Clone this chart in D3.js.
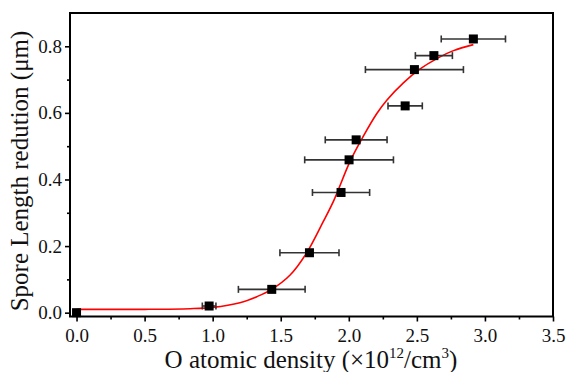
<!DOCTYPE html>
<html><head><meta charset="utf-8">
<script src="https://cdn.jsdelivr.net/npm/d3@7"></script>
<style>body{margin:0;background:#fff}svg{display:block}</style>
</head><body><svg id="c" width="567" height="372"></svg>
<script>
// Data
const density = [0.0, 0.974, 1.434, 1.711, 1.943, 2.002, 2.054, 2.414, 2.482, 2.625, 2.915];
const reduction = [0.0, 0.020, 0.070, 0.180, 0.361, 0.459, 0.519, 0.621, 0.730, 0.772, 0.822];
const densityErr = [0.0, 0.05, 0.245, 0.217, 0.21, 0.326, 0.227, 0.126, 0.36, 0.136, 0.236];
const fitX = [0, 0.5, 0.834, 1.0, 1.2, 1.324, 1.434, 1.569, 1.691, 1.813, 1.892, 2.01, 2.107, 2.206, 2.279, 2.401, 2.524, 2.647, 2.769, 2.915];
const fitY = [0.010, 0.010, 0.012, 0.016, 0.030, 0.048, 0.070, 0.113, 0.180, 0.274, 0.339, 0.455, 0.530, 0.598, 0.638, 0.690, 0.732, 0.763, 0.787, 0.805];
const xTicks = [0, 0.5, 1.0, 1.5, 2.0, 2.5, 3.0, 3.5];
const yTicks = [0, 0.2, 0.4, 0.6, 0.8];

const FONT = "'Liberation Serif','Times New Roman',serif";
const svg = d3.select("#c");
const L = 70, R = 553, T = 13, B = 316.5;
const x = d3.scaleLinear().domain([-0.048, 3.5]).range([L, R]);
const y = d3.scaleLinear().domain([-0.0115, 0.9]).range([B, T]);

// axes
const xAxis = d3.axisBottom(x).tickValues(xTicks).tickFormat(d3.format(".1f")).tickSize(5).tickPadding(7);
const xMinor = d3.axisBottom(x).tickValues(d3.range(0.25, 3.5, 0.5)).tickFormat("").tickSize(3);
const yAxis = d3.axisLeft(y).tickValues(yTicks).tickFormat(d3.format(".1f")).tickSize(5).tickPadding(3);
const yMinor = d3.axisLeft(y).tickValues([0.1, 0.3, 0.5, 0.7]).tickFormat("").tickSize(3);

function style(g){
  g.attr("font-family", null).attr("font-size", null);
  g.select(".domain").remove();
  g.selectAll("line").attr("stroke","#000").attr("stroke-width",1.6);
  g.selectAll("text").style("font-size","19px").style("font-family",FONT).attr("fill","#111");
}
svg.append("g").attr("transform",`translate(0,${B})`).call(xAxis).call(style);
svg.append("g").attr("transform",`translate(0,${B})`).call(xMinor).call(style);
svg.append("g").attr("transform",`translate(${L},0)`).call(yAxis).call(style);
svg.append("g").attr("transform",`translate(${L},0)`).call(yMinor).call(style);

// frame
svg.append("rect").attr("x",L).attr("y",T).attr("width",R-L).attr("height",B-T)
  .attr("fill","none").attr("stroke","#000").attr("stroke-width",2);

// fit line
const pts = fitX.map((v,i)=>[v,fitY[i]]);
svg.append("path").datum(pts)
  .attr("d", d3.line().x(d=>x(d[0])).y(d=>y(d[1])).curve(d3.curveCatmullRom.alpha(0.5)))
  .attr("fill","none").attr("stroke","#ff0000").attr("stroke-width",1.6);

// error bars
const data = density.map((v,i)=>({x:v,y:reduction[i],e:densityErr[i]}));
const eb = svg.append("g").attr("stroke","#333").attr("stroke-width",1.6);
data.filter(d=>d.e>0).forEach(d=>{
  eb.append("line").attr("x1",x(d.x-d.e)).attr("x2",x(d.x+d.e)).attr("y1",y(d.y)).attr("y2",y(d.y));
  [d.x-d.e, d.x+d.e].forEach(v=>{
    eb.append("line").attr("x1",x(v)).attr("x2",x(v)).attr("y1",y(d.y)-3.5).attr("y2",y(d.y)+3.5);
  });
});

// markers
const s = 9;
svg.append("g").selectAll("rect").data(data).join("rect")
  .attr("x",d=>x(d.x)-s/2).attr("y",d=>y(d.y)-s/2).attr("width",s).attr("height",s).attr("fill","#000");

// titles
const xt = svg.append("text").attr("x",311).attr("y",368).attr("text-anchor","middle")
  .style("font-size","25px").style("font-family",FONT).attr("fill","#111");
xt.append("tspan").text("O atomic density (×10");
xt.append("tspan").style("font-size","15px").attr("dy",-10).text("12");
xt.append("tspan").attr("dy",10).text("/cm");
xt.append("tspan").style("font-size","15px").attr("dy",-10).text("3");
xt.append("tspan").attr("dy",10).text(")");

svg.append("text").attr("transform","translate(28,171) rotate(-90)").attr("text-anchor","middle")
  .style("font-size","25px").style("font-family",FONT).attr("fill","#111").text("Spore Length redution (μm)");
</script></body></html>
